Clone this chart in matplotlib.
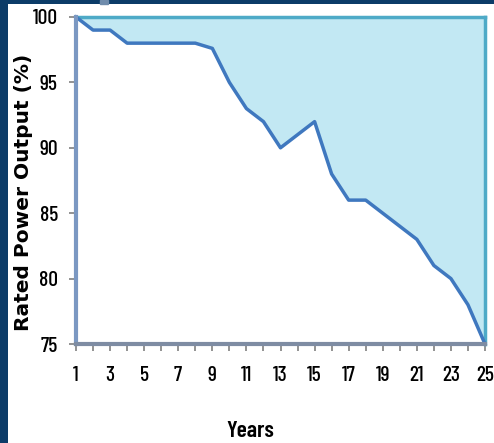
import matplotlib.pyplot as plt
import matplotlib.patches as mpatches

years = list(range(1, 26))
power = [100, 99, 99, 98, 98, 98, 98, 98, 97.6, 95, 93, 92, 90, 91, 92,
         88, 86, 86, 85, 84, 83, 81, 80, 78, 75]
ytick_vals = [75, 80, 85, 90, 95, 100]
xtick_labels = [str(y) if y % 2 == 1 else '' for y in years]

narrow = ['Barlow Condensed', 'DejaVu Sans']

W, H = 494, 443
fig = plt.figure(figsize=(W / 100, H / 100), dpi=100)
fig.patch.set_facecolor('#0c3c68')

# white slide panel behind the chart
panel = fig.add_axes([8 / W, 0, (W - 8) / W, (H - 4) / H])
panel.set_facecolor('white')
panel.set_xticks([])
panel.set_yticks([])
for s in panel.spines.values():
    s.set_visible(False)
fig.patches.append(mpatches.Rectangle((100 / W, 1 - 4 / H), 8 / W, 4 / H,
                                      transform=fig.transFigure,
                                      color='#6f8cac', zorder=5))

ax = fig.add_axes([76 / W, 1 - 344 / H, (485 - 76) / W, (344 - 17) / H])
ax.set_facecolor('none')

ax.fill_between(years, power, 100, color='#c2e8f3', lw=0, zorder=1)
ax.plot([years[0], years[-1]], [100, 100], color='#4eaac7', lw=2.5, zorder=2,
        clip_on=False)
ax.plot([years[-1], years[-1]], [power[-1], 100], color='#4eaac7', lw=2.5,
        zorder=2, clip_on=False)
ax.plot(years, power, color='#3f78bf', lw=2.5, zorder=3,
        solid_joinstyle='round', clip_on=False)

ax.set_xlim(1, 25)
ax.set_ylim(75, 100)
ax.set_xticks(years)
ax.set_xticklabels(xtick_labels)
ax.set_yticks(ytick_vals)

for s in ['top', 'right']:
    ax.spines[s].set_visible(False)
ax.spines['left'].set_color('#7b98c2')
ax.spines['left'].set_linewidth(3)
ax.spines['bottom'].set_color('#7e8ca3')
ax.spines['bottom'].set_linewidth(3)
ax.spines['left'].set_zorder(4)
ax.spines['bottom'].set_zorder(4)

ax.tick_params(axis='both', colors='#8a8a8a', length=5, width=1.3,
               labelcolor='black')
ax.tick_params(axis='x', pad=11)
ax.tick_params(axis='y', pad=8)
for lbl in ax.get_xticklabels() + ax.get_yticklabels():
    lbl.set_fontfamily(narrow)
    lbl.set_fontsize(15.5)
    lbl.set_fontweight('medium')

ax.set_ylabel('Rated Power Output (%)', fontsize=14.5, fontweight='bold',
              family='DejaVu Sans')
ax.yaxis.set_label_coords(-0.106, 0.465)
ax.set_xlabel('Years', fontsize=17, fontweight='semibold', family=narrow)
ax.xaxis.set_label_coords(0.425, -0.235)

fig.savefig('out.png', dpi=100, facecolor=fig.get_facecolor())
